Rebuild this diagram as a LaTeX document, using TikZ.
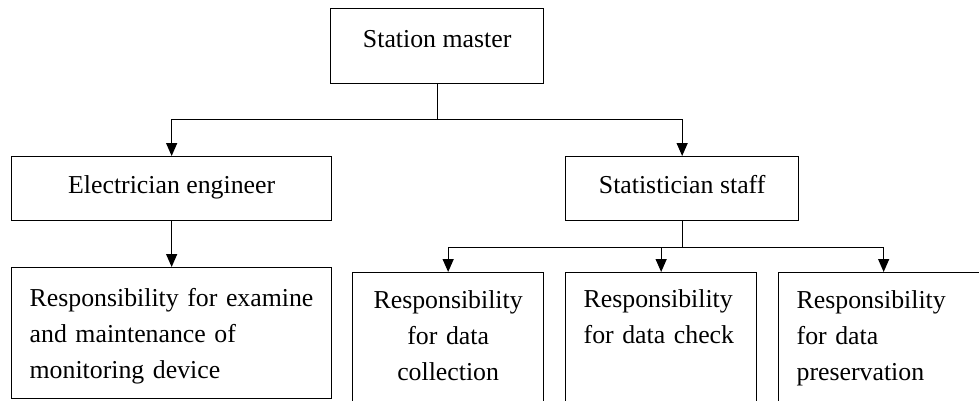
\documentclass[tikz,border=0pt]{standalone}
\usepackage{fontspec}
\setmainfont{Liberation Serif}
\usetikzlibrary{arrows.meta}

\begin{document}
\begin{tikzpicture}[x = 1pt, y = 1pt,
   rolebox/.style = {draw, line width = 1.3pt, inner sep = 0pt, anchor = north west,
                     font = \fontsize{25.8}{36}\selectfont},
   dutybox/.style = {rolebox, align = left, inner xsep = 18pt},
   arr/.style = {line width = 1.3pt, -{Triangle[length = 13pt, width = 11pt]}}]
\useasboundingbox (0,0) rectangle (979,-400);
\clip (0,0) rectangle (979,-400);

% top and second row
\node[rolebox, minimum width = 213pt, text height = 39pt, text depth = 36pt] (master) at (330,-8) {Station master};
\node[rolebox, minimum width = 320pt, text height = 37pt, text depth = 27pt] (elec) at (11,-156) {Electrician engineer};
\node[rolebox, minimum width = 233pt, text height = 37pt, text depth = 27pt] (stat) at (565,-156) {Statistician staff};

% duties
\node[dutybox, text width = 284pt, text height = 38.7pt, text depth = 92.3pt] (exam) at (11,-267)
   {Responsibility for examine\\and maintenance of\\monitoring device};
\node[rolebox, align = center, text width = 191pt, text height = 36pt, text depth = 112pt] (collect) at (352,-272)
   {Responsibility\\for data\\collection};
\node[dutybox, text width = 155pt, text height = 35pt, text depth = 113pt] (check) at (565,-272)
   {Responsibility\\for data check};
\node[dutybox, text width = 174pt, text height = 36pt, text depth = 112pt] (preserve) at (778,-272)
   {Responsibility\\for data\\preservation};

\path (master.south) ++(0,-35) coordinate (split);
\draw[arr] (master.south) -- (split) -| (elec.north);
\draw[arr] (split) -| (stat.north);
\draw[arr] (elec.south) -- (exam.north);

\path (stat.south) ++(0,-26) coordinate (stsplit);
\draw[line width = 1.3pt] (stat.south) -- (stsplit);
\foreach \duty in {collect, check, preserve}
   \draw[arr] (stsplit) -| (\duty.north);
\end{tikzpicture}
\end{document}
